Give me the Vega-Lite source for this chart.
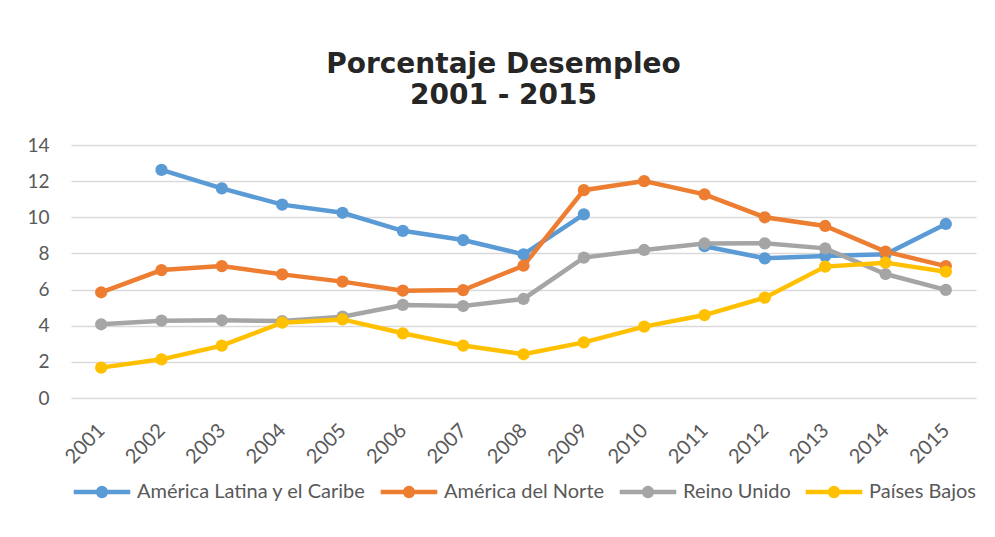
{
  "$schema": "https://vega.github.io/schema/vega-lite/v6.json",
  "autosize": {"type": "none"},
  "width": 905,
  "height": 253,
  "padding": {"left": 71, "top": 145, "right": 19, "bottom": 139},
  "background": "white",
  "title": {
    "text": ["Porcentaje Desempleo", "2001 - 2015"],
    "font": "DejaVu Sans",
    "fontWeight": "bold",
    "fontSize": 28,
    "color": "#262626",
    "lineHeight": 31,
    "anchor": "middle",
    "frame": "group",
    "dx": -20,
    "offset": 26
  },
  "config": {
    "view": {"stroke": null},
    "font": "Lato"
  },
  "data": {
    "values": [
      {"year": "2001", "serie": "América Latina y el Caribe", "valor": null},
      {"year": "2002", "serie": "América Latina y el Caribe", "valor": 12.62},
      {"year": "2003", "serie": "América Latina y el Caribe", "valor": 11.6},
      {"year": "2004", "serie": "América Latina y el Caribe", "valor": 10.7},
      {"year": "2005", "serie": "América Latina y el Caribe", "valor": 10.25},
      {"year": "2006", "serie": "América Latina y el Caribe", "valor": 9.25},
      {"year": "2007", "serie": "América Latina y el Caribe", "valor": 8.74},
      {"year": "2008", "serie": "América Latina y el Caribe", "valor": 7.95},
      {"year": "2009", "serie": "América Latina y el Caribe", "valor": 10.16},
      {"year": "2010", "serie": "América Latina y el Caribe", "valor": null},
      {"year": "2011", "serie": "América Latina y el Caribe", "valor": 8.4},
      {"year": "2012", "serie": "América Latina y el Caribe", "valor": 7.73},
      {"year": "2013", "serie": "América Latina y el Caribe", "valor": 7.86},
      {"year": "2014", "serie": "América Latina y el Caribe", "valor": 7.95},
      {"year": "2015", "serie": "América Latina y el Caribe", "valor": 9.63},
      {"year": "2001", "serie": "América del Norte", "valor": 5.85},
      {"year": "2002", "serie": "América del Norte", "valor": 7.08},
      {"year": "2003", "serie": "América del Norte", "valor": 7.3},
      {"year": "2004", "serie": "América del Norte", "valor": 6.84},
      {"year": "2005", "serie": "América del Norte", "valor": 6.44},
      {"year": "2006", "serie": "América del Norte", "valor": 5.94},
      {"year": "2007", "serie": "América del Norte", "valor": 5.97},
      {"year": "2008", "serie": "América del Norte", "valor": 7.32},
      {"year": "2009", "serie": "América del Norte", "valor": 11.5},
      {"year": "2010", "serie": "América del Norte", "valor": 12.0},
      {"year": "2011", "serie": "América del Norte", "valor": 11.27},
      {"year": "2012", "serie": "América del Norte", "valor": 10.0},
      {"year": "2013", "serie": "América del Norte", "valor": 9.52},
      {"year": "2014", "serie": "América del Norte", "valor": 8.1},
      {"year": "2015", "serie": "América del Norte", "valor": 7.3},
      {"year": "2001", "serie": "Reino Unido", "valor": 4.08},
      {"year": "2002", "serie": "Reino Unido", "valor": 4.28},
      {"year": "2003", "serie": "Reino Unido", "valor": 4.3},
      {"year": "2004", "serie": "Reino Unido", "valor": 4.26},
      {"year": "2005", "serie": "Reino Unido", "valor": 4.5},
      {"year": "2006", "serie": "Reino Unido", "valor": 5.15},
      {"year": "2007", "serie": "Reino Unido", "valor": 5.09},
      {"year": "2008", "serie": "Reino Unido", "valor": 5.48},
      {"year": "2009", "serie": "Reino Unido", "valor": 7.77},
      {"year": "2010", "serie": "Reino Unido", "valor": 8.19},
      {"year": "2011", "serie": "Reino Unido", "valor": 8.55},
      {"year": "2012", "serie": "Reino Unido", "valor": 8.56},
      {"year": "2013", "serie": "Reino Unido", "valor": 8.28},
      {"year": "2014", "serie": "Reino Unido", "valor": 6.86},
      {"year": "2015", "serie": "Reino Unido", "valor": 5.98},
      {"year": "2001", "serie": "Países Bajos", "valor": 1.68},
      {"year": "2002", "serie": "Países Bajos", "valor": 2.14},
      {"year": "2003", "serie": "Países Bajos", "valor": 2.9},
      {"year": "2004", "serie": "Países Bajos", "valor": 4.17},
      {"year": "2005", "serie": "Países Bajos", "valor": 4.35},
      {"year": "2006", "serie": "Países Bajos", "valor": 3.58},
      {"year": "2007", "serie": "Países Bajos", "valor": 2.9},
      {"year": "2008", "serie": "Países Bajos", "valor": 2.42},
      {"year": "2009", "serie": "Países Bajos", "valor": 3.08},
      {"year": "2010", "serie": "Países Bajos", "valor": 3.95},
      {"year": "2011", "serie": "Países Bajos", "valor": 4.59},
      {"year": "2012", "serie": "Países Bajos", "valor": 5.55},
      {"year": "2013", "serie": "Países Bajos", "valor": 7.27},
      {"year": "2014", "serie": "Países Bajos", "valor": 7.49},
      {"year": "2015", "serie": "Países Bajos", "valor": 6.99}
    ]
  },
  "mark": {
    "type": "line",
    "strokeWidth": 4.5,
    "point": {"filled": true, "size": 150, "opacity": 1}
  },
  "encoding": {
    "x": {
      "field": "year",
      "type": "ordinal",
      "scale": {"type": "point", "padding": 0.5},
      "axis": {
        "title": null,
        "labelAngle": -45,
        "labelFontSize": 20,
        "labelColor": "#595959",
        "labelPadding": 22,
        "labelOffset": -7,
        "domain": false,
        "ticks": false,
        "grid": false
      }
    },
    "y": {
      "field": "valor",
      "type": "quantitative",
      "scale": {"domain": [0, 14], "nice": false},
      "axis": {
        "title": null,
        "values": [0, 2, 4, 6, 8, 10, 12, 14],
        "labelFontSize": 19,
        "labelColor": "#595959",
        "labelPadding": 22,
        "domain": false,
        "ticks": false,
        "grid": true,
        "gridColor": "#d9d9d9",
        "gridWidth": 1.5
      }
    },
    "color": {
      "field": "serie",
      "type": "nominal",
      "scale": {
        "domain": ["América Latina y el Caribe", "América del Norte", "Reino Unido", "Países Bajos"],
        "range": ["#5B9BD5", "#ED7D31", "#A5A5A5", "#FFC000"]
      },
      "legend": {
        "title": null,
        "orient": "bottom",
        "direction": "horizontal",
        "offset": -6,
        "labelFontSize": 20,
        "labelLimit": 400,
        "labelColor": "#595959",
        "symbolType": "M-1,0 L1,0 M0.14,0 A0.14,0.14 0 1,1 -0.14,0 A0.14,0.14 0 1,1 0.14,0",
        "symbolSize": 3200,
        "symbolStrokeWidth": 4.5,
        "labelOffset": 4,
        "columnPadding": 5
      }
    }
  }
}
